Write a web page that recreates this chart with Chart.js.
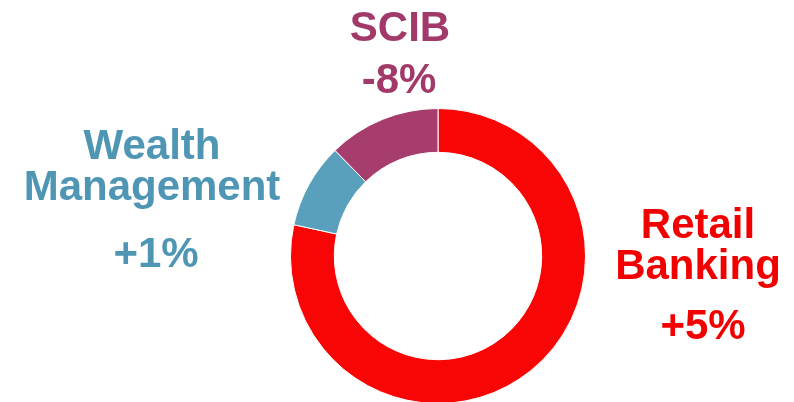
<!DOCTYPE html>
<html>
<head>
<meta charset="utf-8">
<script src="https://cdn.jsdelivr.net/npm/chart.js@4/dist/chart.umd.min.js"></script>
<style>
  html, body { margin: 0; padding: 0; background: #ffffff; overflow: hidden; }
  #wrap { position: relative; width: 794px; height: 402px; overflow: hidden; }
  #c { position: absolute; left: 0; top: 0; }
  .lbl { position: absolute; white-space: nowrap; font-family: "Liberation Sans", Arial, sans-serif;
         font-weight: bold; font-size: 42px; line-height: 42px; transform: translateX(-50%); }
</style>
</head>
<body>
<div id="wrap">
  <canvas id="c" width="794" height="420"></canvas>
</div>
<script>
// ---- data ----
const categories = ['Retail Banking', 'Wealth Management', 'SCIB'];
const shares = [78.4, 9.3, 12.3];
const changes = ['+5%', '+1%', '-8%'];

// ---- styles ----
const segmentColors = ['#F80606', '#58A0BC', '#A63D6D'];
const textColors = ['#F20000', '#4E96B4', '#A23A69'];
// label layout: centre x of name lines, baseline of first name line, line step, change centre x, change baseline
const labelLayout = [
  { x: 698, y: 239, step: 41, cx: 703, cy: 340 },
  { x: 152, y: 160, step: 41, cx: 156, cy: 268 },
  { x: 400, y: 42,  step: 41, cx: 399, cy: 94 }
];

new Chart(document.getElementById('c'), {
  type: 'doughnut',
  data: {
    labels: categories,
    datasets: [{
      data: shares,
      backgroundColor: segmentColors,
      borderColor: '#ffffff',
      borderWidth: 1
    }]
  },
  options: {
    responsive: false,
    animation: false,
    cutout: '70.3%',
    layout: { padding: { left: 290, right: 208, top: 108, bottom: 16 } },
    plugins: { legend: { display: false }, tooltip: { enabled: false } }
  }
});

// ---- text labels (real DOM text) ----
const wrap = document.getElementById('wrap');
const BASE = 35.55; // baseline offset inside a 42px line box
function addLine(text, x, baseline, color) {
  const d = document.createElement('div');
  d.className = 'lbl';
  d.textContent = text;
  d.style.left = x + 'px';
  d.style.top = (baseline - BASE) + 'px';
  d.style.color = color;
  wrap.appendChild(d);
}
categories.forEach((name, i) => {
  const L = labelLayout[i];
  name.split(' ').forEach((w, j) => addLine(w, L.x, L.y + j * L.step, textColors[i]));
  addLine(changes[i], L.cx, L.cy, textColors[i]);
});
</script>
</body>
</html>
